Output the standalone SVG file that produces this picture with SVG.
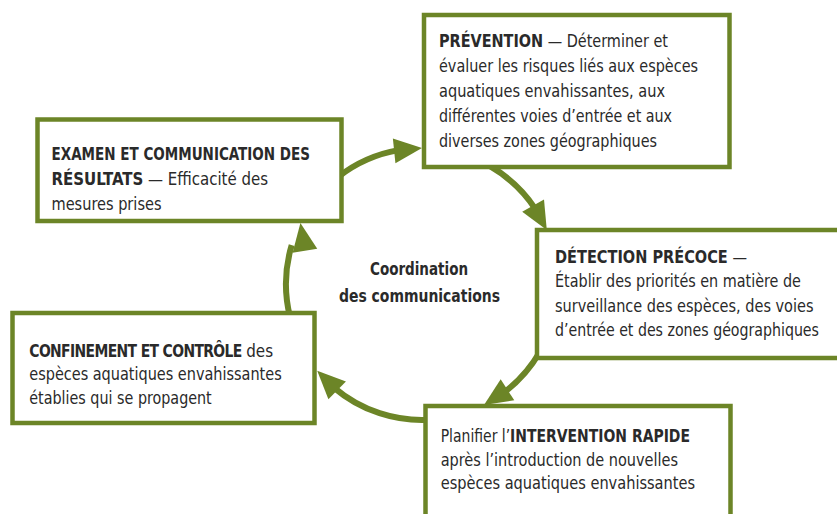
<svg xmlns="http://www.w3.org/2000/svg" xmlns:xlink="http://www.w3.org/1999/xlink" width="837" height="514" viewBox="0 0 837 514">
  <style>
    .box { fill: #ffffff; stroke: #6c8527; stroke-width: 4.5; }
    .arc { fill: none; stroke: #6c8527; stroke-width: 6; stroke-linecap: butt; }
    .head { fill: #6c8527; }
    text { font-family: "DejaVu Sans Condensed", "Liberation Sans", sans-serif; font-size: 17.5px; fill: #2a2a2a; }
    .b { font-weight: bold; }
    .tight { letter-spacing: -0.7px; }
  </style>
  <defs>
    <!-- arrowhead pointing along +x, tip at origin -->
    <polygon id="arrowhead" class="head" points="0,0 -28,-12.5 -28,12.5"/>
  </defs>
  <rect width="837" height="514" fill="#ffffff"/>

  <!-- cycle connectors on a circle centred at (422,284), r=136 -->
  <g id="connectors">
    <path class="arc" d="M338.3 176.8 A136 136 0 0 1 398.4 150.1"/>
    <use xlink:href="#arrowhead" transform="translate(422 148) rotate(-5.9)"/>
    <path class="arc" d="M490 166.2 A136 136 0 0 1 535.5 209.1"/>
    <use xlink:href="#arrowhead" transform="translate(546.8 230) rotate(60.7)"/>
    <path class="arc" d="M539.8 352 A136 136 0 0 1 504 392.5"/>
    <use xlink:href="#arrowhead" transform="translate(484 405.1) rotate(147)"/>
    <path class="arc" d="M431.5 419.7 A136 136 0 0 1 333.9 387.6"/>
    <use xlink:href="#arrowhead" transform="translate(317.2 370.7) rotate(224.5)"/>
    <path class="arc" d="M290 316.9 A136 136 0 0 1 291.7 245.1"/>
    <use xlink:href="#arrowhead" transform="translate(300.4 223.1) rotate(260.7)"/>
  </g>

  <!-- text blocks are set in a horizontally condensed frame (scale 0.9) -->
  <g id="prevention">
    <rect class="box" x="424" y="15" width="305.5" height="152"/>
    <g transform="translate(439 0) scale(0.9 1)">
      <text x="0" y="47" textLength="254.4" lengthAdjust="spacingAndGlyphs"><tspan class="b">PRÉVENTION</tspan> — Déterminer et</text>
      <text x="0" y="72" textLength="287.8" lengthAdjust="spacingAndGlyphs">évaluer les risques liés aux espèces</text>
      <text x="0" y="97" textLength="251.1" lengthAdjust="spacingAndGlyphs">aquatiques envahissantes, aux</text>
      <text x="0" y="122" textLength="258.9" lengthAdjust="spacingAndGlyphs">différentes voies d’entrée et aux</text>
      <text x="0" y="147" textLength="242.2" lengthAdjust="spacingAndGlyphs">diverses zones géographiques</text>
    </g>
  </g>

  <g id="examen">
    <rect class="box" x="37.5" y="119.5" width="304" height="101.5"/>
    <g transform="translate(51.5 0) scale(0.9 1)">
      <text class="b" x="0" y="160.5" textLength="287.2" lengthAdjust="spacingAndGlyphs">EXAMEN ET COMMUNICATION DES</text>
      <text x="0" y="185.5" textLength="240.6" lengthAdjust="spacingAndGlyphs"><tspan class="b">RÉSULTATS</tspan> — Efficacité des</text>
      <text x="0" y="210" textLength="122.2" lengthAdjust="spacingAndGlyphs">mesures prises</text>
    </g>
  </g>

  <g id="detection">
    <rect class="box" x="537" y="230" width="313" height="128"/>
    <g transform="translate(555 0) scale(0.9 1)">
      <text x="0" y="262.7" textLength="213.3" lengthAdjust="spacingAndGlyphs"><tspan class="b">DÉTECTION PRÉCOCE</tspan> —</text>
      <text x="0" y="287.5" textLength="273.3" lengthAdjust="spacingAndGlyphs">Établir des priorités en matière de</text>
      <text x="0" y="311.7" textLength="287.2" lengthAdjust="spacingAndGlyphs">surveillance des espèces, des voies</text>
      <text x="0" y="336.3" textLength="293.3" lengthAdjust="spacingAndGlyphs">d’entrée et des zones géographiques</text>
    </g>
  </g>

  <g id="confinement">
    <rect class="box" x="12.5" y="313" width="302" height="110"/>
    <g transform="translate(29.3 0) scale(0.9 1)">
      <text class="b tight" x="0" y="357" textLength="236" lengthAdjust="spacingAndGlyphs">CONFINEMENT ET CONTRÔLE</text>
      <text x="241" y="357" textLength="29.8" lengthAdjust="spacingAndGlyphs">des</text>
      <text x="0" y="380.5" textLength="280.4" lengthAdjust="spacingAndGlyphs">espèces aquatiques envahissantes</text>
      <text x="0" y="404" textLength="202.7" lengthAdjust="spacingAndGlyphs">établies qui se propagent</text>
    </g>
  </g>

  <g id="intervention">
    <rect class="box" x="425.5" y="406" width="305" height="124"/>
    <g transform="translate(440.7 0) scale(0.9 1)">
      <text x="0" y="442" textLength="277" lengthAdjust="spacingAndGlyphs">Planifier l’<tspan class="b">INTERVENTION RAPIDE</tspan></text>
      <text x="0" y="465.7" textLength="263.7" lengthAdjust="spacingAndGlyphs">après l’introduction de nouvelles</text>
      <text x="0" y="489.3" textLength="282.6" lengthAdjust="spacingAndGlyphs">espèces aquatiques envahissantes</text>
    </g>
  </g>

  <g id="coordination">
    <text class="b" transform="translate(370 0) scale(0.9 1)" x="0" y="275" textLength="108.9" lengthAdjust="spacingAndGlyphs">Coordination</text>
    <text class="b" transform="translate(339 0) scale(0.9 1)" x="0" y="301.7" textLength="178.9" lengthAdjust="spacingAndGlyphs">des communications</text>
  </g>
</svg>
